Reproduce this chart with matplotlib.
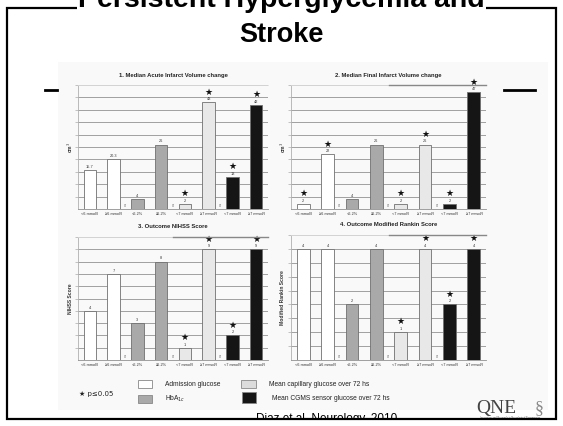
import matplotlib

matplotlib.use("Agg")
import matplotlib.pyplot as plt
from matplotlib.patches import Rectangle
from matplotlib.lines import Line2D
from matplotlib.transforms import Bbox, TransformedBbox

W, H = 563, 426

categories = ["<6 mmol/l", "\u22656 mmol/l", "<6.2%", "\u22656.2%",
              "<7 mmol/l", "\u22657 mmol/l", "<7 mmol/l", "\u22657 mmol/l"]
bar_colors = ["white", "white", "#a9a9a9", "#a9a9a9", "#e8e8e8", "#e8e8e8", "#151515", "#151515"]

acute_volume = [15.7, 20.3, 4, 26, 2, 43, 13, 42]
acute_labels = ["15.7", "20.3", "4", "26", "2", "43", "13", "42"]
acute_stars = [4, 5, 6, 7]

final_volume = [2, 22, 4, 26, 2, 26, 2, 47]
final_labels = ["2", "22", "4", "26", "2", "26", "2", "47"]
final_stars = [0, 1, 4, 5, 6, 7]

nihss = [4, 7, 3, 8, 1, 9, 2, 9]
nihss_stars = [4, 5, 6, 7]

rankin = [4, 4, 2, 4, 1, 4, 2, 4]
rankin_stars = [4, 5, 6, 7]

legend_items = [("Admission glucose", "white"), ("HbA$_{1c}$", "#a9a9a9"),
                ("Mean capillary glucose over 72 hs", "#dcdcdc"),
                ("Mean CGMS sensor glucose over 72 hs", "#151515")]


def rect(x0, y0, x1, y1):
    return [x0 / W, 1 - y1 / H, (x1 - x0) / W, (y1 - y0) / H]


def fx(x):
    return x / W


def fy(y):
    return 1 - y / H


def draw_panel(fig, box, values, labels, stars, ymax, step, title, ylabel, bracket):
    ax = fig.add_axes(rect(*box))
    ax.set_facecolor("none")
    xs = list(range(len(values)))
    ax.bar(xs, values, width=0.52, color=bar_colors, edgecolor="#707070", linewidth=0.6, zorder=3)
    ax.set_xlim(-0.5, len(values) - 0.5)
    ax.set_ylim(0, ymax)
    grid = [step * k for k in range(1, int(round(ymax / step)) + 1)]
    for g in grid:
        ax.axhline(g, color="#a0a0a0", lw=0.7, zorder=1)
    for x, v, lab in zip(xs, values, labels):
        ax.annotate(lab, (x, v), xytext=(0, 0.8), textcoords="offset points",
                    ha="center", va="bottom", fontsize=2.8, color="#333")
    for i in stars:
        ax.annotate("\u2605", (i, values[i]), xytext=(0, 4.2), textcoords="offset points",
                    ha="center", va="bottom", fontsize=6.5, color="#111",
                    family=["DejaVu Sans"])
    for x in (1.5, 3.5, 5.5):
        ax.text(x, 0.01 * ymax, "0'", fontsize=2.6, color="#666", ha="center", va="bottom")
    if bracket:
        ax.plot([3.5, 7.5], [ymax, ymax], color="#888", lw=1.0, clip_on=False, zorder=4)
    ax.set_xticks(xs)
    ax.set_xticklabels(categories, fontsize=2.8, color="#333")
    ax.tick_params(axis="x", length=0, pad=2)
    ax.set_yticks(grid)
    ax.set_yticklabels([])
    ax.tick_params(axis="y", length=2, color="#aaa", width=0.5)
    ax.spines["right"].set_visible(False)
    ax.spines["top"].set_color("#dddddd")
    ax.spines["left"].set_color("#b0b0b0")
    ax.spines["bottom"].set_color("#909090")
    for s in ax.spines.values():
        s.set_linewidth(0.6)
    x0, y0, x1, y1 = box
    fig.text(fx((x0 + x1) / 2), fy(y0 - 10), title, ha="center", va="center",
             fontsize=4.2, fontweight="bold", color="#222")
    fig.text(fx(x0 - 8), fy((y0 + y1) / 2), ylabel, ha="center", va="center",
             rotation=90, fontsize=3.6, fontweight="bold", color="#333")
    return ax


plt.rcParams["font.family"] = ["Liberation Sans", "DejaVu Sans"]
fig = plt.figure(figsize=(W / 100, H / 100), dpi=100)

# scanned figure background
fig.patches.append(Rectangle((fx(58), fy(410)), (548 - 58) / W, (410 - 62) / H,
                             transform=fig.transFigure, facecolor="#f9f9f9", edgecolor="none", zorder=-1))

draw_panel(fig, (78, 85, 268, 209), acute_volume, acute_labels, acute_stars, 50, 5,
           "1. Median Acute Infarct Volume change", "cm$^3$", False)
draw_panel(fig, (291, 85, 486, 209), final_volume, final_labels, final_stars, 50, 5,
           "2. Median Final Infarct Volume change", "cm$^3$", True)
draw_panel(fig, (78, 237, 268, 360), nihss, [str(v) for v in nihss], nihss_stars, 10, 1,
           "3. Outcome NIHSS Score", "NIHSS Score", True)
draw_panel(fig, (291, 235, 486, 360), rankin, [str(v) for v in rankin], rankin_stars, 4.5, 0.5,
           "4. Outcome Modified Rankin Score", "Modified Rankin Score", True)

# legend
fig.text(fx(79), fy(394), "\u2605 p\u22640.05", fontsize=5, color="#222", va="center",
         family=["DejaVu Sans"])
legend_pos = [(138, 380, 152, 388, 165, 384), (138, 395, 152, 403, 165, 399),
              (241, 380, 256, 388, 269, 384), (242, 392, 256, 403, 272, 399)]
for (label, color), (bx0, by0, bx1, by1, tx, ty) in zip(legend_items, legend_pos):
    fig.patches.append(Rectangle((fx(bx0), fy(by1)), (bx1 - bx0) / W, (by1 - by0) / H,
                                 transform=fig.transFigure, facecolor=color,
                                 edgecolor="#888", linewidth=0.6, zorder=2))
    fig.text(fx(tx), fy(ty), label, fontsize=4.8, color="#222", va="center")

# logo and citation (citation runs under the bottom frame)
fig.text(fx(476), fy(413), "QNE", fontsize=14, color="#444", family=["Liberation Serif"], va="baseline")
fig.text(fx(535), fy(413), "\u00a7", fontsize=13, color="#888", family=["Liberation Serif"], va="baseline")
fig.text(fx(510), fy(417.5), "Innovation and Research in Neurological Emergencies", fontsize=1.8,
         color="#555", ha="center", va="center")
cite = fig.text(fx(327), fy(422), "Diaz et al, Neurology, 2010", fontsize=8.5, color="black",
                ha="center", va="baseline")
cite.set_clip_box(TransformedBbox(Bbox([[0, fy(419)], [1, 1]]), fig.transFigure))
cite.set_clip_on(True)
fig.patches.append(Rectangle((0, 0), 1, fy(419.5), transform=fig.transFigure,
                             facecolor="white", edgecolor="none", zorder=10))

# slide frame and decorations
fig.patches.append(Rectangle((fx(7), fy(419)), (556 - 7) / W, (419 - 8) / H, transform=fig.transFigure,
                             facecolor="none", edgecolor="black", linewidth=1.6, zorder=11))
fig.lines.append(Line2D([fx(45), fx(57)], [fy(90), fy(90)], transform=fig.transFigure,
                        color="black", lw=2))
fig.lines.append(Line2D([fx(504), fx(535)], [fy(90), fy(90)], transform=fig.transFigure,
                        color="black", lw=2))

# slide title (first line runs off the top)
fig.text(0.5, fy(7), "Persistent Hyperglycemia and", fontsize=20.5, fontweight="bold",
         ha="center", va="baseline", zorder=12,
         bbox=dict(facecolor="white", edgecolor="none", pad=1))
fig.text(0.5, fy(42), "Stroke", fontsize=19.5, fontweight="bold", ha="center", va="baseline")

fig.savefig("out.png", dpi=100)
plt.close(fig)
